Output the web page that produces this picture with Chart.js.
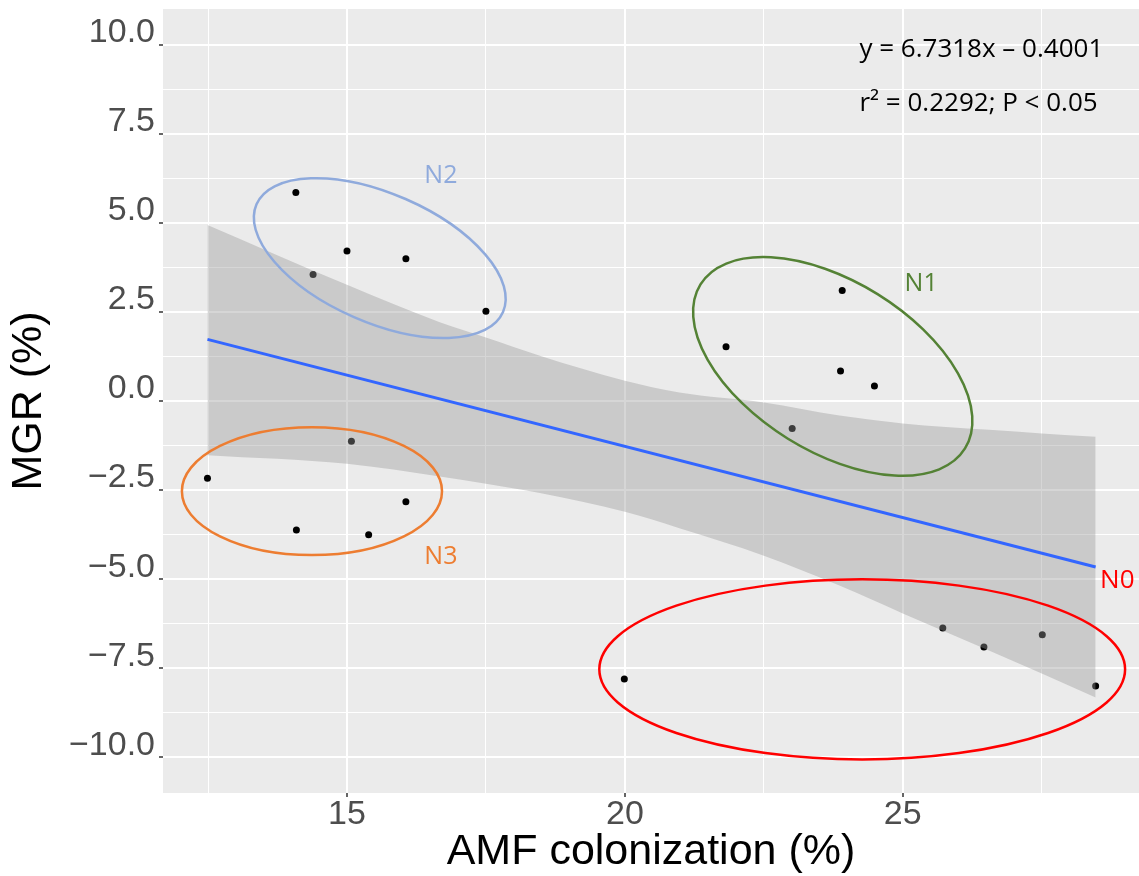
<!DOCTYPE html>
<html>
<head>
<meta charset="utf-8">
<title>MGR vs AMF colonization</title>
<script src="https://cdn.jsdelivr.net/npm/chart.js@4.4.1/dist/chart.umd.min.js"></script>
<style>
  html, body { margin: 0; padding: 0; background: #ffffff; }
  #wrap { width: 1139px; height: 876px; }
</style>
</head>
<body>
<div id="wrap"><canvas id="mgrChart" width="1139" height="876"></canvas></div>
<script>
// --- Data ---
// N0
const n0X = [19.99, 25.72, 26.46, 27.51, 28.47];
const n0Y = [-7.80, -6.37, -6.90, -6.56, -8.00];
// N1
const n1X = [21.82, 23.91, 23.88, 24.49, 23.01];
const n1Y = [1.52, 3.10, 0.84, 0.42, -0.77];
// N2
const n2X = [14.08, 15.00, 14.39, 16.06, 17.50];
const n2Y = [5.85, 4.21, 3.55, 3.99, 2.52];
// N3
const n3X = [12.49, 15.08, 14.09, 15.39, 16.06];
const n3Y = [-2.17, -1.13, -3.62, -3.75, -2.83];

// linear fit and its confidence band
const fitX = [12.49, 28.47];
const fitY = [1.73, -4.66];
const bandX = [12.49, 15, 16.67, 17.5, 18.47, 20, 20.98, 22.5, 23.86, 25, 26.55, 27.5, 28.47];
const bandUpper = [4.94, 3.26, 2.21, 1.78, 1.27, 0.57, 0.24, -0.04, -0.41, -0.63, -0.81, -0.91, -1.00];
const bandLower = [-1.52, -1.76, -2.12, -2.32, -2.58, -3.11, -3.57, -4.34, -5.18, -5.96, -7.00, -7.65, -8.32];

// axis breaks
const xMajor = [15, 20, 25];
const xMinor = [12.5, 17.5, 22.5, 27.5];
const yMajor = [-10, -7.5, -5, -2.5, 0, 2.5, 5, 7.5, 10];
const yMinor = [-8.75, -6.25, -3.75, -1.25, 1.25, 3.75, 6.25, 8.75];

const eqLines = ['y = 6.7318x \u2013 0.4001', 'r\u00b2 = 0.2292; P < 0.05'];

// group outlines: centre in data units, half-axes in x units, tilt in degrees
const groups = [
    { name: 'N2', color: '#8FAADC', cx: 15.59, cy: 4.01, a: 2.42, b: 1.16, tilt: 23.6, lx: 16.69, ly: 6.32 },
    { name: 'N1', color: '#548235', cx: 23.74, cy: 0.97, a: 2.80, b: 1.53, tilt: 31.8, lx: 25.33, ly: 3.29 },
    { name: 'N3', color: '#ED7D31', cx: 14.37, cy: -2.53, a: 2.34, b: 1.15, tilt: 0, lx: 16.69, ly: -4.37 },
    { name: 'N0', color: '#FF0000', cx: 24.27, cy: -7.53, a: 4.73, b: 1.62, tilt: 0, lx: 28.86, ly: -5.04 }
];

function toPoints(xs, ys) {
    return xs.map((x, i) => ({ x: x, y: ys[i] }));
}

function buildTicks(major, minor) {
    return major.concat(minor).sort((a, b) => a - b).map(v => ({ value: v }));
}

function fmtY(v) {
    const s = Math.abs(v).toFixed(1);
    return v < 0 ? '\u2212' + s : s;
}

// no extra room for overhanging tick labels, the panel fills the canvas
function noLabelPadding(axis) {
    axis.paddingTop = 0;
    axis.paddingBottom = 0;
    axis.paddingLeft = 0;
    axis.paddingRight = 0;
}

// grey panel behind the grid
const panelBg = {
    id: 'panelBg',
    beforeDraw(chart) {
        const { ctx, chartArea: a } = chart;
        ctx.save();
        ctx.fillStyle = '#EBEBEB';
        ctx.fillRect(a.left, a.top, a.right - a.left, a.bottom - a.top);
        ctx.restore();
    }
};

// ellipses, group names and the regression text
const overlays = {
    id: 'overlays',
    afterDatasetsDraw(chart) {
        const { ctx, chartArea: a } = chart;
        const xs = chart.scales.x, ys = chart.scales.y;
        const unit = xs.getPixelForValue(1) - xs.getPixelForValue(0);
        ctx.save();
        ctx.beginPath();
        ctx.rect(a.left, a.top, a.right - a.left, a.bottom - a.top);
        ctx.clip();

        groups.forEach(g => {
            ctx.beginPath();
            ctx.ellipse(xs.getPixelForValue(g.cx), ys.getPixelForValue(g.cy),
                g.a * unit, g.b * unit, g.tilt * Math.PI / 180, 0, Math.PI * 2);
            ctx.strokeStyle = g.color;
            ctx.lineWidth = 2.5;
            ctx.stroke();

            ctx.fillStyle = g.color;
            ctx.textAlign = 'center';
            ctx.textBaseline = 'middle';
            ctx.font = g.name === 'N0' ? '26px "Liberation Sans Narrow", "Open Sans"' : '25px "Open Sans"';
            ctx.fillText(g.name, xs.getPixelForValue(g.lx), ys.getPixelForValue(g.ly));
        });

        ctx.fillStyle = '#000000';
        ctx.font = '26px "Open Sans"';
        ctx.textAlign = 'left';
        ctx.textBaseline = 'alphabetic';
        ctx.fillText(eqLines[0], xs.getPixelForValue(24.22), ys.getPixelForValue(9.66));
        ctx.fillText(eqLines[1], xs.getPixelForValue(24.22), ys.getPixelForValue(8.14));
        ctx.restore();
    }
};

const ctx = document.getElementById('mgrChart').getContext('2d');
new Chart(ctx, {
    type: 'scatter',
    data: {
        datasets: [
            {
                type: 'line',
                label: 'fit',
                data: toPoints(fitX, fitY),
                borderColor: '#3366FF',
                borderWidth: 3,
                pointRadius: 0,
                fill: false,
                order: 0
            },
            {
                type: 'line',
                label: 'upper',
                data: toPoints(bandX, bandUpper),
                borderWidth: 0,
                borderColor: 'rgba(0,0,0,0)',
                pointRadius: 0,
                cubicInterpolationMode: 'monotone',
                backgroundColor: 'rgba(153,153,153,0.4)',
                fill: '+1',
                order: 1
            },
            {
                type: 'line',
                label: 'lower',
                data: toPoints(bandX, bandLower),
                borderWidth: 0,
                borderColor: 'rgba(0,0,0,0)',
                pointRadius: 0,
                cubicInterpolationMode: 'monotone',
                fill: false,
                order: 1
            },
            {
                label: 'samples',
                data: toPoints(n0X.concat(n1X, n2X, n3X), n0Y.concat(n1Y, n2Y, n3Y)),
                backgroundColor: '#000000',
                borderWidth: 0,
                pointRadius: 3.5,
                order: 2
            }
        ]
    },
    options: {
        responsive: false,
        animation: false,
        layout: { autoPadding: false, padding: { top: 9, right: 0, left: 0, bottom: 0 } },
        plugins: {
            legend: { display: false },
            tooltip: { enabled: false }
        },
        scales: {
            x: {
                type: 'linear',
                min: 11.69,
                max: 29.25,
                bounds: 'data',
                afterBuildTicks: axis => { axis.ticks = buildTicks(xMajor, xMinor); },
                afterFit: axis => { axis.height = 83; noLabelPadding(axis); },
                border: { display: false },
                grid: {
                    color: '#FFFFFF',
                    lineWidth: c => xMajor.includes(c.tick.value) ? 2 : 1,
                    tickColor: c => xMajor.includes(c.tick.value) ? '#333333' : 'rgba(0,0,0,0)',
                    tickLength: 4,
                    tickWidth: 1.5
                },
                ticks: {
                    autoSkip: false,
                    maxRotation: 0,
                    minRotation: 0,
                    padding: 1,
                    color: '#4D4D4D',
                    font: { family: '"Liberation Sans", Arial', size: 34, lineHeight: 1 },
                    callback: v => xMajor.includes(v) ? String(v) : ''
                },
                title: {
                    display: true,
                    text: 'AMF colonization (%)',
                    color: '#000000',
                    font: { family: '"Liberation Sans", Arial', size: 43, lineHeight: 1 },
                    padding: { top: 0, bottom: 2 }
                }
            },
            y: {
                type: 'linear',
                min: -11,
                max: 11,
                bounds: 'data',
                afterBuildTicks: axis => { axis.ticks = buildTicks(yMajor, yMinor); },
                afterFit: axis => { axis.width = 163; noLabelPadding(axis); },
                border: { display: false },
                grid: {
                    color: '#FFFFFF',
                    lineWidth: c => yMajor.includes(c.tick.value) ? 2 : 1,
                    tickColor: c => yMajor.includes(c.tick.value) ? '#333333' : 'rgba(0,0,0,0)',
                    tickLength: 4,
                    tickWidth: 1.5
                },
                ticks: {
                    autoSkip: false,
                    padding: 4,
                    labelOffset: -12,
                    color: '#4D4D4D',
                    font: { family: '"Liberation Sans", Arial', size: 34, lineHeight: 1 },
                    callback: v => yMajor.includes(v) ? fmtY(v) : ''
                },
                title: {
                    display: true,
                    text: 'MGR (%)',
                    color: '#000000',
                    font: { family: '"Liberation Sans", Arial', size: 43, lineHeight: 1 },
                    padding: { top: 8, bottom: 0 }
                }
            }
        }
    },
    plugins: [panelBg, overlays]
});
</script>
</body>
</html>
